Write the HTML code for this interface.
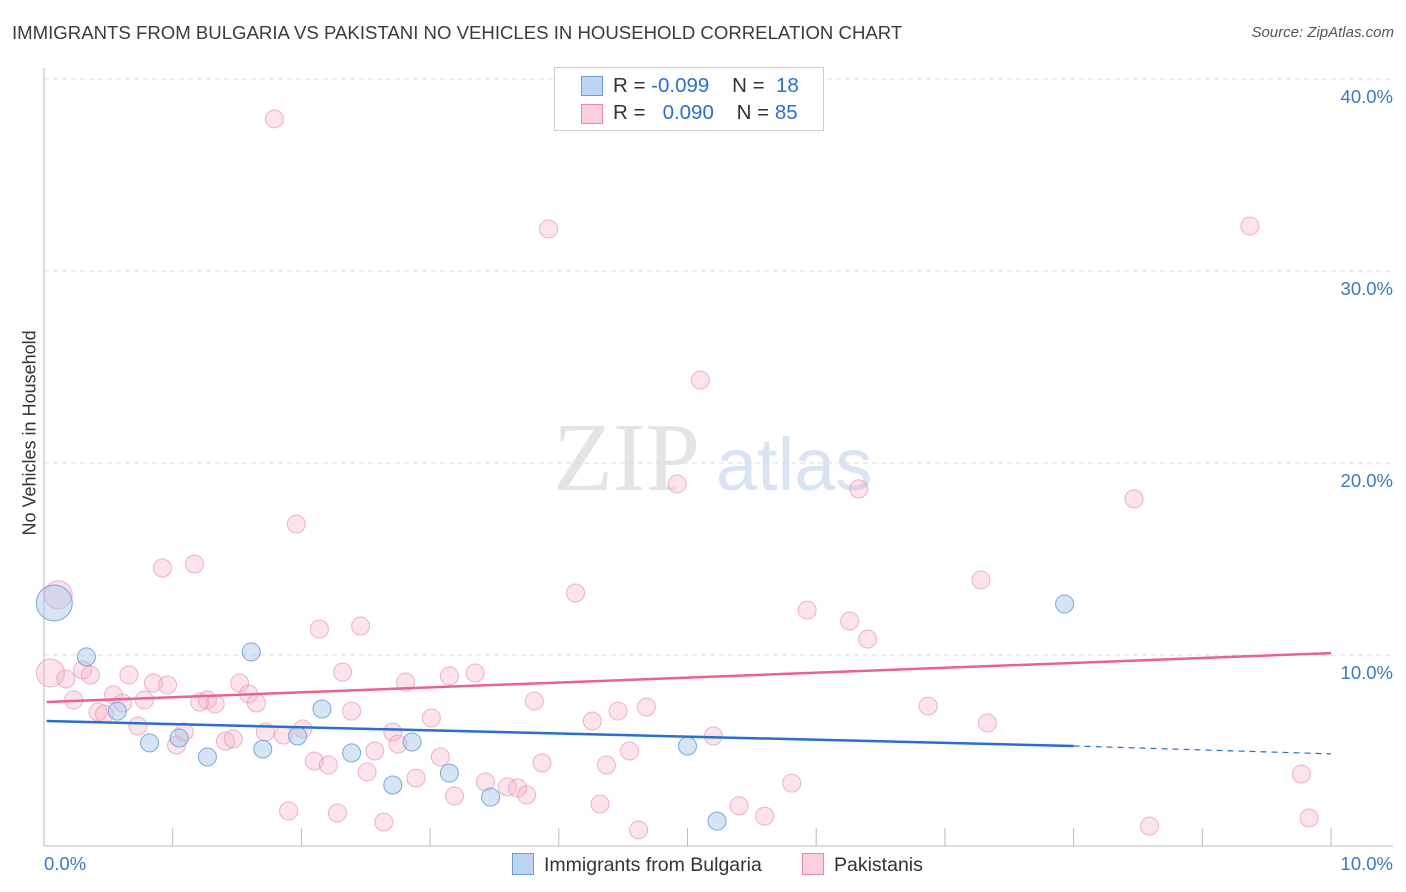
<!DOCTYPE html>
<html><head><meta charset="utf-8"><style>
body{margin:0;background:#fff;font-family:"Liberation Sans",sans-serif}
#wrap{position:relative;width:1406px;height:892px;overflow:hidden}
.t{position:absolute;white-space:nowrap}
</style></head><body>
<div id="wrap">
<div class="t" style="left:12px;top:22px;font-size:18.6px;color:#3b3b3b">IMMIGRANTS FROM BULGARIA VS PAKISTANI NO VEHICLES IN HOUSEHOLD CORRELATION CHART</div>
<div class="t" style="right:12px;top:24px;font-size:15px;color:#555;font-style:italic">Source: ZipAtlas.com</div>
<div class="t" style="left:-50px;top:445px;width:160px;text-align:center;transform:rotate(-90deg);font-size:18px;color:#333">No Vehicles in Household</div>
<svg id="svg" width="1406" height="892" style="position:absolute;left:0;top:0"></svg>
</div>
<script>
const yTicks=[10,20,30,40];
const yTickLabels=["10.0%","20.0%","30.0%","40.0%"];
const xTickLabels=["0.0%","10.0%"];
const blueX=[0.08,0.33,0.57,0.82,1.05,1.27,1.61,1.70,1.97,2.16,2.39,2.71,2.86,3.15,3.47,5.00,5.23,7.93];
const blueY=[12.71,9.90,7.08,5.42,5.68,4.69,10.16,5.10,5.78,7.19,4.90,3.23,5.47,3.85,2.60,5.26,1.35,12.66];
const pinkX=[0.11,0.05,0.17,0.23,0.30,0.36,0.42,0.47,0.54,0.61,0.66,0.73,0.78,0.85,0.92,0.96,1.03,1.09,1.17,1.21,1.27,1.33,1.41,1.47,1.52,1.59,1.65,1.72,1.79,1.86,1.90,1.96,2.01,2.10,2.14,2.21,2.28,2.32,2.39,2.46,2.51,2.57,2.64,2.71,2.75,2.81,2.89,3.01,3.08,3.15,3.19,3.35,3.43,3.60,3.68,3.75,3.81,3.87,3.92,4.13,4.26,4.32,4.37,4.46,4.55,4.62,4.68,4.92,5.10,5.20,5.40,5.60,5.81,5.93,6.26,6.33,6.40,6.87,7.28,7.33,8.47,8.59,9.37,9.77,9.83];
const pinkY=[13.13,9.06,8.75,7.66,9.22,8.96,7.03,6.93,7.92,7.50,8.96,6.30,7.66,8.54,14.53,8.44,5.31,5.99,14.74,7.55,7.66,7.45,5.52,5.63,8.54,7.97,7.50,5.99,37.92,5.83,1.88,16.82,6.15,4.48,11.35,4.27,1.77,9.11,7.08,11.51,3.91,5.00,1.30,5.99,5.36,8.59,3.59,6.72,4.69,8.91,2.66,9.06,3.39,3.13,3.07,2.71,7.60,4.38,32.19,13.23,6.56,2.24,4.27,7.08,5.00,0.89,7.29,18.91,24.32,5.78,2.14,1.61,3.33,12.34,11.77,18.65,10.83,7.34,13.91,6.46,18.13,1.09,32.34,3.80,1.51];
const blueTrend=[6.56,5.26,4.85]; // at x=0, 8, 10
const pinkTrend=[7.55,10.1]; // at x=0,10
const X=v=>44+v*128.7, Y=v=>847-v*19.2;
const NS="http://www.w3.org/2000/svg", svg=document.getElementById('svg');
function mk(tag,a){const e=document.createElementNS(NS,tag);for(const k in a)e.setAttribute(k,a[k]);svg.appendChild(e);return e;}
let w=mk('text',{x:553,y:490,'font-size':98,fill:'#e4e4e4','font-family':'Liberation Serif'});w.textContent='ZIP';

w=mk('text',{x:716,y:490,'font-size':74,fill:'#d8e4f3','font-family':'Liberation Sans'});w.textContent='atlas';

yTicks.forEach((t,i)=>{let g=mk('line',{x1:44,x2:1393,y1:Y(t),y2:Y(t),stroke:'#dcdcdc','stroke-dasharray':'5,4'});

let l=mk('text',{x:1393,y:Y(t)+24,'text-anchor':'end','font-size':18.5,fill:'#3a78d0'});l.textContent=yTickLabels[i];
});
let a=mk('line',{x1:44,x2:44,y1:68,y2:846,stroke:'#bbb'});
a=mk('line',{x1:44,x2:1393,y1:846,y2:846,stroke:'#bbb'});
for(let i=1;i<=10;i++){let t=mk('line',{x1:X(i),x2:X(i),y1:828,y2:846,stroke:'#bbb'});}
[[0,'start',44],[10,'end',1393]].forEach((d,i)=>{let l=mk('text',{x:d[2],y:870,'text-anchor':d[1],'font-size':18.5,fill:'#3a78d0'});l.textContent=xTickLabels[i];
});
pinkX.forEach((x,i)=>{const r=(i<2)?14:9;let c=mk('circle',{cx:X(x),cy:Y(pinkY[i]),r:r,fill:'rgba(246,175,200,0.35)',stroke:'rgba(232,140,172,0.65)','stroke-width':1});
});
blueX.forEach((x,i)=>{const r=(i==0)?18:9;let c=mk('circle',{cx:X(x),cy:Y(blueY[i]),r:r,fill:'rgba(165,198,236,0.45)',stroke:'rgba(100,155,215,0.85)','stroke-width':1});
});
let tl=mk('line',{x1:X(0.02),y1:Y(pinkTrend[0]),x2:X(10),y2:Y(pinkTrend[1]),stroke:'#e8648f','stroke-width':2.5});

tl=mk('line',{x1:X(0.02),y1:Y(blueTrend[0]),x2:X(8),y2:Y(blueTrend[1]),stroke:'#2a6fd0','stroke-width':2.5});

tl=mk('line',{x1:X(8),y1:Y(blueTrend[1]),x2:X(10),y2:Y(blueTrend[2]),stroke:'#2a6fd0','stroke-width':1.2,'stroke-dasharray':'6,5'});

</script>
<div class="t" style="left:554px;top:67px;width:268px;height:62px;border:1px solid #ccc;background:#fff;font-size:20.5px;color:#333">
 <div style="position:absolute;left:26px;top:8px;width:20px;height:18px;background:#bcd5f3;border:1px solid #6a9fd8"></div>
 <div style="position:absolute;left:58px;top:6px">R = <span style="color:#2a6fd0">-0.099</span>&nbsp;&nbsp;&nbsp; N = &nbsp;<span style="color:#2a6fd0">18</span></div>
 <div style="position:absolute;left:26px;top:36px;width:20px;height:18px;background:#fbcfdc;border:1px solid #e889a8"></div>
 <div style="position:absolute;left:58px;top:33px">R = &nbsp; <span style="color:#2a6fd0">0.090</span>&nbsp;&nbsp;&nbsp; N = <span style="color:#2a6fd0">85</span></div>
</div>
<div class="t" style="left:512px;top:853px;font-size:19.5px;color:#333"><span style="display:inline-block;width:20px;height:20px;background:#bcd5f3;border:1px solid #6a9fd8;vertical-align:-4px;margin-right:10px"></span>Immigrants from Bulgaria</div>
<div class="t" style="left:802px;top:853px;font-size:19.5px;color:#333"><span style="display:inline-block;width:20px;height:20px;background:#fbcfdc;border:1px solid #e889a8;vertical-align:-4px;margin-right:10px"></span>Pakistanis</div>
</body></html>
